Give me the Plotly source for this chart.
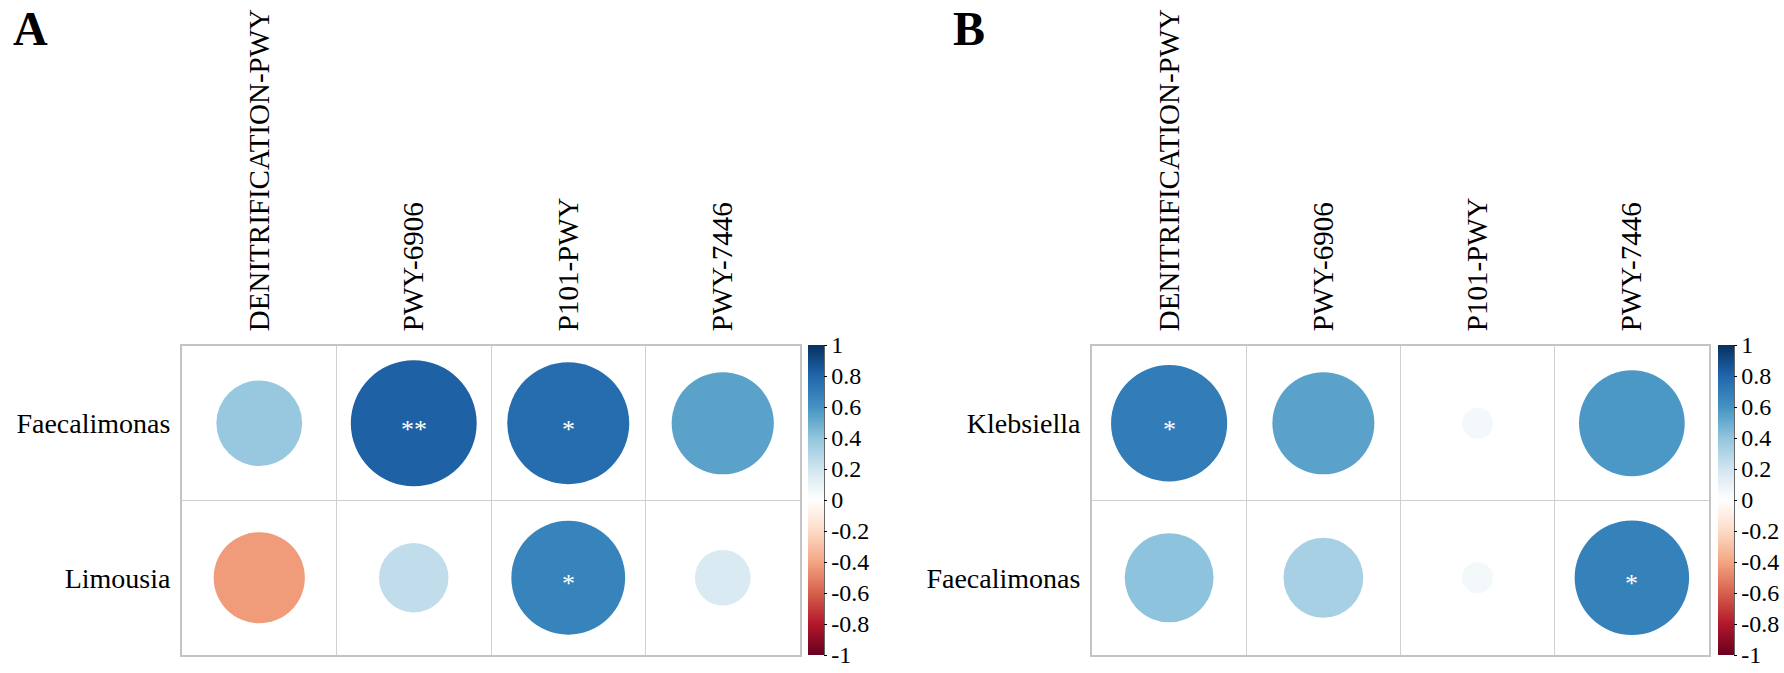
import plotly.graph_objects as go
from plotly.colors import sample_colorscale
import math

# ---------------- data ----------------
columns = ["DENITRIFICATION-PWY", "PWY-6906", "P101-PWY", "PWY-7446"]

rows_A = ["Faecalimonas", "Limousia"]
r_A_row1 = [0.38, 0.82, 0.77, 0.54]
r_A_row2 = [-0.43, 0.25, 0.67, 0.16]
sig_A_row1 = ["", "**", "*", ""]
sig_A_row2 = ["", "", "*", ""]

rows_B = ["Klebsiella", "Faecalimonas"]
r_B_row1 = [0.70, 0.54, 0.05, 0.58]
r_B_row2 = [0.41, 0.33, 0.05, 0.68]
sig_B_row1 = ["*", "", "", ""]
sig_B_row2 = ["", "", "", "*"]

cbar_ticks = [1, 0.8, 0.6, 0.4, 0.2, 0, -0.2, -0.4, -0.6, -0.8, -1]
cbar_ticktext = ["1", "0.8", "0.6", "0.4", "0.2", "0", "-0.2", "-0.4", "-0.6", "-0.8", "-1"]

# ---------------- style ----------------
W, H = 1784, 673
SERIF = "Liberation Serif, Times New Roman, serif"
rdbu = ["#67001F", "#B2182B", "#D6604D", "#F4A582", "#FDDBC7", "#FFFFFF",
        "#D1E5F0", "#92C5DE", "#4393C3", "#2166AC", "#053061"]
colorscale = [[i / 10, c] for i, c in enumerate(rdbu)]

def px_x(p):
    return p / W

def px_y(p):
    return 1 - p / H

panels = [
    dict(rows=rows_A, vals=[r_A_row1, r_A_row2], sig=[sig_A_row1, sig_A_row2],
         gx=(182, 800), cb=808, label="A", lx=11, xa="x", ya="y"),
    dict(rows=rows_B, vals=[r_B_row1, r_B_row2], sig=[sig_B_row1, sig_B_row2],
         gx=(1092, 1709), cb=1718, label="B", lx=951, xa="x2", ya="y2"),
]
GY = (346, 655)
CB_TOP, CB_BOT = 345, 655
CB_THICK = 16

fig = go.Figure()
shapes = []
annotations = []

for k, p in enumerate(panels):
    xa, ya = p["xa"], p["ya"]
    for i, row in enumerate(p["vals"]):
        for j, v in enumerate(row):
            rad = 0.45 * math.sqrt(abs(v))
            col = sample_colorscale(colorscale, [(v + 1) / 2])[0]
            shapes.append(dict(type="circle", xref=xa, yref=ya,
                               x0=j - rad, x1=j + rad, y0=i - rad, y1=i + rad,
                               fillcolor=col, line=dict(width=0), layer="above"))
            s = p["sig"][i][j]
            if s:
                annotations.append(dict(xref=xa, yref=ya, x=j, y=i, text=s,
                                        showarrow=False, yshift=-6,
                                        font=dict(family=SERIF, size=26, color="white")))
    fig.add_trace(go.Scatter(
        x=[0], y=[0], xaxis=xa, yaxis=ya, mode="markers", hoverinfo="skip",
        showlegend=False,
        marker=dict(size=0.1, opacity=0, color=[0], cmin=-1, cmax=1,
                    colorscale=colorscale, showscale=True,
                    colorbar=dict(x=px_x(p["cb"]), xanchor="left", xpad=0, ypad=0,
                                  y=px_y(CB_TOP), yanchor="top",
                                  len=(CB_BOT - CB_TOP) / H, lenmode="fraction",
                                  thickness=CB_THICK, thicknessmode="pixels",
                                  outlinewidth=0,
                                  tickmode="array", tickvals=cbar_ticks,
                                  ticktext=cbar_ticktext,
                                  ticks="outside", ticklen=3, tickwidth=1,
                                  tickcolor="black",
                                  tickfont=dict(family=SERIF, size=24, color="black")))))
    shapes.append(dict(type="line", xref="paper", yref="paper",
                       x0=px_x(p["cb"] + CB_THICK), x1=px_x(p["cb"] + CB_THICK),
                       y0=px_y(CB_TOP), y1=px_y(CB_BOT),
                       line=dict(color="black", width=1.2)))
    annotations.append(dict(xref="paper", yref="paper", x=px_x(p["lx"]), y=1,
                            xanchor="left", yanchor="top", yshift=0,
                            text="<b>%s</b>" % p["label"], showarrow=False,
                            font=dict(family=SERIF, size=48, color="black")))

    axis_common = dict(showgrid=False, zeroline=False, showline=True, mirror=True,
                       linecolor="#c4c4c4", linewidth=2, ticks="",
                       tickfont=dict(family=SERIF, size=28, color="black"),
                       fixedrange=True, automargin=False)
    xkey = "xaxis" if k == 0 else "xaxis2"
    ykey = "yaxis" if k == 0 else "yaxis2"
    fig.update_layout(**{
        xkey: dict(axis_common, domain=[px_x(p["gx"][0]), px_x(p["gx"][1])],
                   range=[-0.5, 3.5], side="top", tickmode="array",
                   tickvals=list(range(len(columns))), ticktext=columns,
                   tickangle=-90, ticklabelstandoff=7, anchor=ya,
                   tickfont=dict(family=SERIF, size=29, color="black"),
                   minor=dict(tickvals=[0.5, 1.5, 2.5], showgrid=True,
                              gridcolor="#d0d0d0", gridwidth=1, ticks="")),
        ykey: dict(axis_common, domain=[px_y(GY[1]), px_y(GY[0])],
                   range=[1.5, -0.5], tickmode="array",
                   tickvals=list(range(len(p["rows"]))), ticktext=p["rows"],
                   ticklabelstandoff=4, anchor=xa,
                   minor=dict(tickvals=[0.5], showgrid=True,
                              gridcolor="#d0d0d0", gridwidth=1, ticks="")),
    })

fig.update_layout(width=W, height=H,
                  margin=dict(l=0, r=0, t=0, b=0, autoexpand=False),
                  paper_bgcolor="white", plot_bgcolor="white",
                  shapes=shapes, annotations=annotations,
                  font=dict(family=SERIF, color="black"))

fig.write_html("out.html", config={"displayModeBar": False},
               post_script="document.body.style.margin='0px';"
                           "document.body.style.overflow='hidden';")
